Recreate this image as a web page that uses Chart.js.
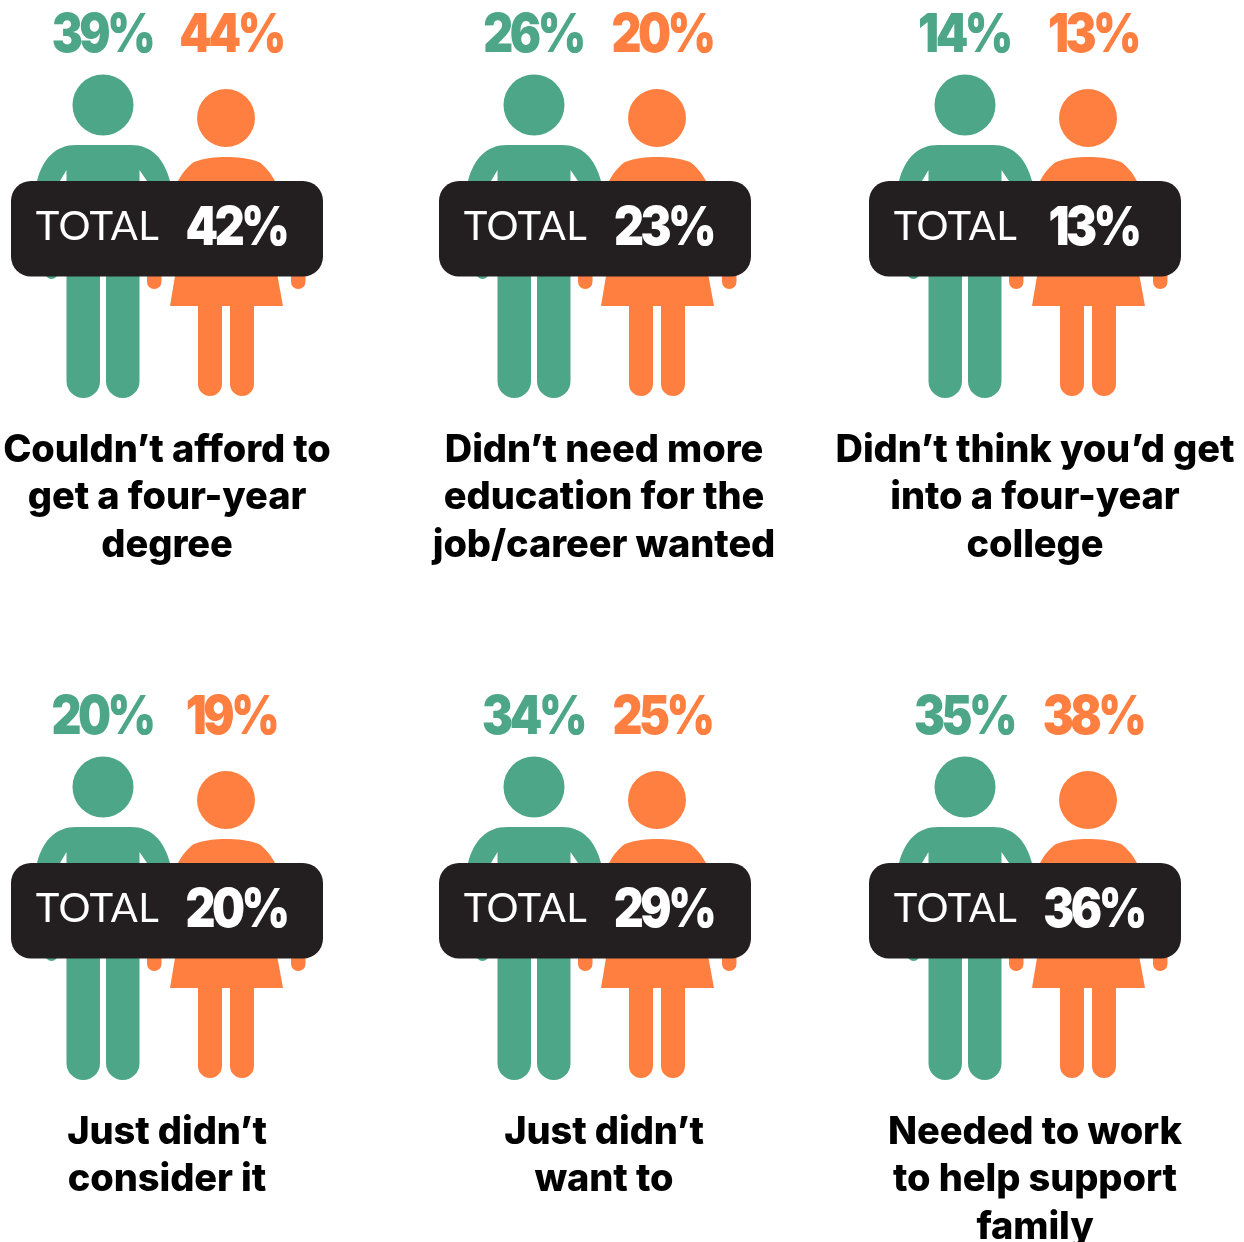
<!DOCTYPE html>
<html>
<head>
<meta charset="utf-8">
<title>Reasons for not pursuing a four-year degree</title>
<style>
  html, body { margin: 0; padding: 0; background: #fff; overflow: hidden; }
  canvas { display: block; }
</style>
<script src="https://cdn.jsdelivr.net/npm/chart.js@4"></script>
</head>
<body>
<canvas id="myChart" width="1244" height="1242"></canvas>
<script>
// survey results, one entry per panel
const categories = [
  ['Couldn\u2019t afford to', 'get a four-year', 'degree'],
  ['Didn\u2019t need more', 'education for the', 'job/career wanted'],
  ['Didn\u2019t think you\u2019d get', 'into a four-year', 'college'],
  ['Just didn\u2019t', 'consider it'],
  ['Just didn\u2019t', 'want to'],
  ['Needed to work', 'to help support', 'family']
];
const menValues = [39, 26, 14, 20, 34, 35];
const womenValues = [44, 20, 13, 19, 25, 38];
const totalValues = [42, 23, 13, 20, 29, 36];
const totalLabel = 'TOTAL';

const GREEN = '#4ca687';
const ORANGE = '#ff7f41';
const DARK = '#231f20';

// panel grid
const panelCol = [0, 1, 2, 0, 1, 2];
const panelRow = [0, 0, 0, 1, 1, 1];
const colStep = 431;
const rowStep = 682;
const firstManX = 103;
const firstRowY = 236;
const womanOffset = 123 / colStep;

// the badge and captions don't sit quite on the column step
const badgeLeft = [11, 439, 869];
const totalCenter = [236, 663.5, 1093.5];
const captionCenter = [167, 604, 1035];

// both figures use a 160x324 sprite, drawn in first panel page coords
function makeSprite(originX, originY, draw) {
  const c = document.createElement('canvas');
  c.width = 160;
  c.height = 324;
  const g = c.getContext('2d');
  g.translate(-originX, -originY);
  draw(g);
  return c;
}

const manSprite = makeSprite(23, 74, g => {
  g.fillStyle = GREEN;
  g.beginPath();
  g.arc(103, 105, 30.5, 0, Math.PI * 2);
  g.fill();

  // shoulders and arms, the torso stops behind the badge
  g.beginPath();
  g.moveTo(37, 181);
  g.bezierCurveTo(43, 158, 56, 145, 76, 145);
  g.lineTo(131, 145);
  g.bezierCurveTo(151, 145, 164, 158, 170, 181);
  g.lineTo(161, 272);
  g.lineTo(147, 272);
  g.lineTo(147, 181);
  g.lineTo(139.5, 170);
  g.lineTo(139.5, 260);
  g.lineTo(66.5, 260);
  g.lineTo(66.5, 170);
  g.lineTo(60, 181);
  g.lineTo(58, 272);
  g.lineTo(45, 272);
  g.closePath();
  g.fill();
  g.beginPath();
  g.arc(51.5, 272.5, 6.5, 0, Math.PI * 2);
  g.fill();

  // legs
  g.beginPath();
  g.roundRect(66.5, 270, 33.5, 128, [0, 0, 16.7, 16.7]);
  g.roundRect(106, 270, 33.5, 128, [0, 0, 16.7, 16.7]);
  g.fill();
});

const womanSprite = makeSprite(146, 74, g => {
  g.fillStyle = ORANGE;
  g.beginPath();
  g.arc(226, 118, 29, 0, Math.PI * 2);
  g.fill();

  // dress
  g.beginPath();
  g.moveTo(178, 181);
  g.bezierCurveTo(183, 172, 188, 166, 194, 162);
  g.bezierCurveTo(204, 158, 216, 157, 226, 157);
  g.bezierCurveTo(236, 157, 249, 158, 259, 162);
  g.bezierCurveTo(265, 166, 270, 172, 275, 181);
  g.lineTo(277.5, 276);
  g.lineTo(283, 306);
  g.lineTo(170, 306);
  g.lineTo(175, 276);
  g.closePath();
  g.fill();

  // hands
  g.beginPath();
  g.roundRect(147, 260, 14.5, 29, 7.2);
  g.roundRect(291, 260, 14.5, 29, 7.2);
  g.fill();

  // legs
  g.beginPath();
  g.roundRect(198, 300, 24, 96, [0, 0, 12, 12]);
  g.roundRect(230, 300, 24, 96, [0, 0, 12, 12]);
  g.fill();
});

function figurePoints(offset) {
  return categories.map((_, i) => ({ x: panelCol[i] + offset, y: panelRow[i] }));
}

function drawText(ctx, text, x, y, font, color, spacing, squeeze) {
  ctx.font = font;
  ctx.fillStyle = color;
  ctx.letterSpacing = (spacing || 0) + 'px';
  // fillText's maxWidth narrows the glyphs
  ctx.fillText(text, x, y, ctx.measureText(text).width * (squeeze || 1));
}

// badges, percentages and captions go on top of the figures
const panelText = {
  id: 'panelText',
  afterDatasetsDraw(chart) {
    const ctx = chart.ctx;
    const xs = chart.scales.x;
    const ys = chart.scales.y;
    ctx.save();
    ctx.textAlign = 'center';
    ctx.textBaseline = 'alphabetic';

    categories.forEach((lines, i) => {
      const col = panelCol[i];
      const manX = xs.getPixelForValue(col);
      const womanX = xs.getPixelForValue(col + womanOffset);
      const top = ys.getPixelForValue(panelRow[i]) - firstRowY;

      drawText(ctx, menValues[i] + '%', manX - 1, top + 51.5, '900 54px Inter', GREEN, -4, 0.86);
      drawText(ctx, womenValues[i] + '%', womanX + 5, top + 51.5, '900 54px Inter', ORANGE, -4, 0.86);

      ctx.fillStyle = DARK;
      ctx.beginPath();
      ctx.roundRect(badgeLeft[col], top + 181, 312, 95.5, 20);
      ctx.fill();

      drawText(ctx, totalLabel, badgeLeft[col] + 86.5, top + 239.5, '400 40px Lato', '#fff', 0.4);
      drawText(ctx, totalValues[i] + '%', totalCenter[col], top + 244.5, '900 54px Inter', '#fff', -4, 0.86);

      lines.forEach((line, n) => {
        drawText(ctx, line, captionCenter[col], top + 461.5 + n * 47.5, '800 38px Inter', '#000', -0.1);
      });
    });
    ctx.restore();
  }
};

const myChart = new Chart(document.getElementById('myChart'), {
  type: 'scatter',
  data: {
    datasets: [
      { label: 'Women', data: figurePoints(womanOffset), pointStyle: womanSprite },
      { label: 'Men', data: figurePoints(0), pointStyle: manSprite }
    ]
  },
  options: {
    responsive: false,
    animation: false,
    events: [],
    layout: { padding: 0, autoPadding: false },
    plugins: { legend: { display: false }, tooltip: { enabled: false } },
    scales: {
      x: { type: 'linear', display: false, bounds: 'data', min: -firstManX / colStep, max: (1244 - firstManX) / colStep },
      y: { type: 'linear', display: false, bounds: 'data', reverse: true, min: -firstRowY / rowStep, max: (1242 - firstRowY) / rowStep }
    }
  },
  plugins: [panelText]
});
</script>
</body>
</html>
